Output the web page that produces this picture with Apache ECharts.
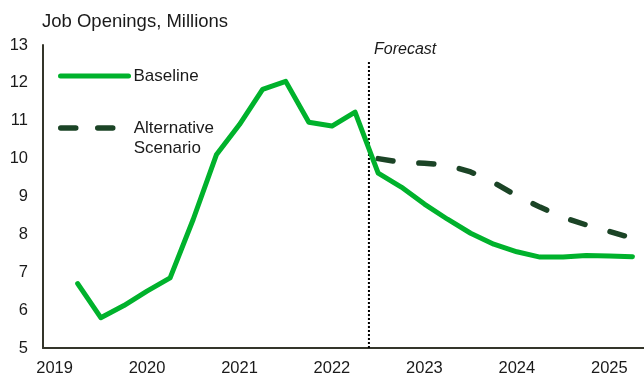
<!DOCTYPE html>
<html>
<head>
<meta charset="utf-8">
<script src="https://cdn.jsdelivr.net/npm/echarts@6/dist/echarts.min.js"></script>
<style>
  html, body { margin: 0; padding: 0; background: #fff; }
  #chart { width: 644px; height: 377px; }
</style>
</head>
<body>
<div id="chart"></div>
<script>
// quarters, 2019 Q1 .. 2025 Q2
const quarters = [
  '2019 Q1', '2019 Q2', '2019 Q3', '2019 Q4',
  '2020 Q1', '2020 Q2', '2020 Q3', '2020 Q4',
  '2021 Q1', '2021 Q2', '2021 Q3', '2021 Q4',
  '2022 Q1', '2022 Q2', '2022 Q3', '2022 Q4',
  '2023 Q1', '2023 Q2', '2023 Q3', '2023 Q4',
  '2024 Q1', '2024 Q2', '2024 Q3', '2024 Q4',
  '2025 Q1', '2025 Q2'
];
const baseline = [
  null, 6.7, 5.8, 6.12, 6.5, 6.85, 8.4, 10.1,
  10.9, 11.83, 12.04, 10.96, 10.86, 11.23, 9.62, 9.25,
  8.8, 8.4, 8.03, 7.74, 7.54, 7.4, 7.4, 7.44,
  7.43, 7.41
];
const alternative = [
  null, null, null, null, null, null, null, null,
  null, null, null, null, null, null, 10.0, 9.9,
  9.88, 9.83, 9.65, 9.37, 9.02, 8.72, 8.45, 8.25,
  8.08, 7.9
];
const yTicks = { min: 5, max: 13, step: 1 };
const forecastAt = 14.1; // in quarter units from the left edge
const forecastTop = 12.55;

const chart = echarts.init(document.getElementById('chart'));
const font = 'Liberation Sans, Arial, sans-serif';
const ink = '#1a1a1a';

chart.setOption({
  animation: false,
  backgroundColor: '#ffffff',
  textStyle: { fontFamily: font },
  title: [
    {
      text: 'Job Openings, Millions',
      left: 42,
      top: 12,
      padding: 0,
      textStyle: { fontSize: 18.5, fontWeight: 'normal', color: ink, fontFamily: font }
    },
    {
      text: 'Forecast',
      left: 374,
      top: 42,
      padding: 0,
      textStyle: { fontSize: 16, fontWeight: 'normal', fontStyle: 'italic', color: ink, fontFamily: font }
    }
  ],
  legend: [
    {
      data: ['Baseline'],
      left: 58,
      top: 66,
      padding: 0,
      itemWidth: 68,
      itemHeight: 20,
      itemStyle: { opacity: 0 },
      lineStyle: { width: 5, cap: 'round' },
      textStyle: { fontSize: 17, lineHeight: 20, color: ink, fontFamily: font }
    },
    {
      data: ['Alternative Scenario'],
      left: 58,
      top: 98,
      padding: 0,
      itemWidth: 68,
      itemHeight: 20,
      itemStyle: { opacity: 0 },
      lineStyle: { width: 5.5, type: [15, 22], cap: 'round' },
      formatter: () => ' \nAlternative\nScenario',
      textStyle: { fontSize: 17, lineHeight: 20, color: ink, fontFamily: font }
    }
  ],
  grid: { left: 43, right: 0, top: 45, bottom: 29 },
  xAxis: [
    {
      type: 'category',
      data: quarters,
      boundaryGap: true,
      axisLine: { lineStyle: { color: '#34352a', width: 2 } },
      axisTick: { show: false },
      axisLabel: {
        interval: 3,
        margin: 12,
        fontSize: 16.5,
        color: ink,
        fontFamily: font,
        formatter: (v) => v.slice(0, 4)
      },
      splitLine: { show: false }
    },
    {
      type: 'value',
      min: 0,
      max: quarters.length,
      show: false
    }
  ],
  yAxis: {
    type: 'value',
    min: yTicks.min,
    max: yTicks.max,
    interval: yTicks.step,
    axisLine: { show: true, lineStyle: { color: '#34352a', width: 2 } },
    axisTick: { show: false },
    axisLabel: { margin: 15, fontSize: 16.5, color: ink, fontFamily: font },
    splitLine: { show: false }
  },
  series: [
    {
      name: 'Forecast line',
      type: 'line',
      xAxisIndex: 1,
      data: [[forecastAt, yTicks.min], [forecastAt, forecastTop]],
      symbol: 'none',
      silent: true,
      lineStyle: { color: '#000000', width: 2, type: [2, 2] },
      z: 1
    },
    {
      name: 'Alternative Scenario',
      type: 'line',
      data: alternative,
      symbol: 'none',
      connectNulls: false,
      color: '#1b4426',
      lineStyle: { color: '#1b4426', width: 5.5, type: [15, 26], cap: 'round', join: 'round' },
      z: 2
    },
    {
      name: 'Baseline',
      type: 'line',
      data: baseline,
      symbol: 'none',
      color: '#00b22c',
      lineStyle: { color: '#00b22c', width: 5, cap: 'round', join: 'round' },
      z: 3
    }
  ]
});
</script>
</body>
</html>
